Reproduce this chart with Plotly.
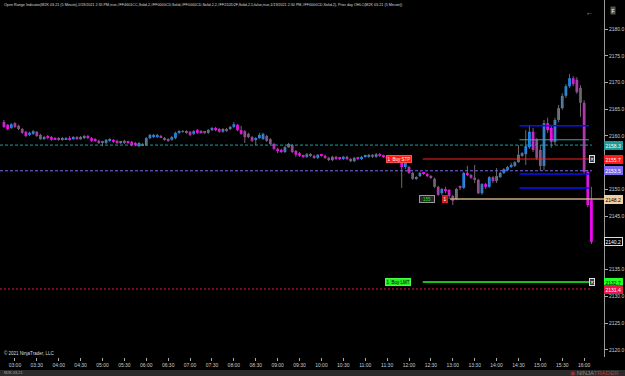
import plotly.graph_objects as go
import pandas as pd

# ---------------- data (M2K 03-21, 5 minute bars, 1/19/2021) ----------------
open_ = [2162.6, 2162.1, 2161.5, 2162.4, 2161.9, 2161.3, 2160.8, 2160.2, 2160.4, 2160.8,
         2160.2, 2159.4, 2160.0, 2159.8, 2159.6, 2159.6, 2159.3, 2159.4, 2159.6, 2159.4,
         2159.8, 2159.4, 2159.6, 2160.0, 2159.6, 2159.4, 2159.1, 2158.9, 2158.7, 2159.1,
         2159.3, 2159.1, 2158.7, 2159.1, 2158.9, 2158.9, 2158.7, 2158.1, 2158.5, 2158.3,
         2159.6, 2159.8, 2159.8, 2160.0, 2159.6, 2159.4, 2159.3, 2159.6, 2160.6, 2160.9,
         2160.9, 2160.8, 2160.4, 2161.1, 2160.9, 2160.8, 2160.6, 2161.1, 2161.5, 2161.3,
         2160.8, 2161.3, 2161.3, 2161.7, 2162.1, 2161.1, 2160.9, 2160.4, 2159.8, 2159.3,
         2159.6, 2159.4, 2160.0, 2159.4, 2158.5, 2157.6, 2157.4, 2157.0, 2157.9, 2158.3,
         2157.2, 2156.8, 2156.3, 2156.1, 2156.6, 2156.3, 2155.9, 2156.5, 2156.3, 2155.9,
         2155.5, 2156.1, 2155.9, 2155.7, 2156.1, 2155.7, 2155.3, 2155.9, 2155.7, 2156.1,
         2156.1, 2156.5, 2156.1, 2156.6, 2156.3, 2156.1, 2155.7, 2155.5, 2155.9, 2155.3,
         2154.2, 2154.2, 2153.1, 2152.0, 2152.5, 2153.1, 2152.9, 2152.5, 2152.0, 2150.5,
         2149.3, 2150.1, 2149.9, 2148.8, 2148.2, 2150.5, 2150.3, 2153.1, 2152.7, 2152.2,
         2151.8, 2149.3, 2151.0, 2150.5, 2152.3, 2151.6, 2152.3, 2153.1, 2153.6, 2154.2,
         2154.4, 2155.1, 2156.3, 2156.6, 2157.9, 2160.8, 2159.3, 2157.4, 2154.4, 2162.4,
         2161.5, 2158.9, 2163.0, 2165.2, 2167.5, 2169.3, 2170.8, 2170.5, 2169.0, 2166.2,
         2153.3, 2148.0]
high = [2163.0, 2162.2, 2162.4, 2162.6, 2162.1, 2161.5, 2160.9, 2160.8, 2161.1, 2160.9,
        2160.4, 2160.0, 2160.2, 2160.0, 2159.8, 2159.8, 2159.8, 2159.8, 2160.0, 2160.0,
        2160.0, 2160.0, 2160.2, 2160.2, 2159.8, 2159.6, 2159.3, 2159.1, 2159.4, 2159.6,
        2159.4, 2159.3, 2159.1, 2159.3, 2159.1, 2159.1, 2158.9, 2158.9, 2158.7, 2159.8,
        2160.4, 2160.4, 2160.4, 2160.2, 2159.8, 2159.6, 2160.0, 2160.8, 2161.1, 2161.1,
        2161.1, 2160.9, 2161.1, 2161.3, 2161.1, 2160.9, 2161.3, 2161.7, 2161.7, 2161.5,
        2161.5, 2161.5, 2161.9, 2162.6, 2162.2, 2161.9, 2161.1, 2160.6, 2160.0, 2159.8,
        2160.6, 2160.6, 2160.2, 2159.6, 2158.7, 2157.8, 2157.6, 2158.1, 2158.7, 2158.5,
        2157.4, 2157.0, 2156.5, 2156.8, 2156.8, 2156.5, 2156.6, 2156.6, 2156.5, 2156.1,
        2156.3, 2156.3, 2156.1, 2156.3, 2156.3, 2155.9, 2156.1, 2156.1, 2156.3, 2156.5,
        2156.6, 2156.6, 2156.8, 2156.8, 2156.5, 2156.3, 2155.9, 2155.9, 2156.1, 2155.5,
        2155.1, 2154.4, 2153.3, 2152.5, 2153.3, 2153.3, 2153.1, 2152.7, 2152.2, 2150.7,
        2150.3, 2150.5, 2150.1, 2149.0, 2150.3, 2150.7, 2153.3, 2154.4, 2152.9, 2154.6,
        2152.0, 2151.2, 2151.2, 2152.5, 2152.5, 2154.0, 2153.3, 2154.0, 2154.4, 2155.0,
        2155.3, 2158.3, 2157.0, 2161.1, 2162.1, 2161.5, 2159.6, 2158.3, 2163.0, 2163.4,
        2162.1, 2163.4, 2165.8, 2168.0, 2169.7, 2171.6, 2171.2, 2171.0, 2169.5, 2166.7,
        2153.6, 2150.5]
low = [2161.5, 2161.1, 2161.3, 2161.5, 2161.1, 2160.4, 2159.8, 2160.0, 2160.2, 2159.8,
       2159.3, 2159.3, 2159.4, 2159.1, 2159.3, 2159.1, 2159.1, 2159.3, 2159.1, 2159.3,
       2159.3, 2159.3, 2159.4, 2159.4, 2158.9, 2158.9, 2158.5, 2158.1, 2158.5, 2158.9,
       2158.7, 2158.5, 2158.5, 2158.5, 2158.5, 2158.1, 2158.1, 2157.9, 2158.1, 2158.1,
       2159.4, 2159.6, 2159.6, 2159.6, 2159.1, 2158.9, 2159.1, 2159.4, 2160.4, 2160.6,
       2160.4, 2160.0, 2160.2, 2160.4, 2160.4, 2160.4, 2160.4, 2160.9, 2160.9, 2160.6,
       2160.6, 2160.8, 2161.1, 2161.5, 2160.9, 2160.2, 2158.7, 2159.6, 2158.9, 2158.3,
       2159.4, 2159.3, 2158.9, 2158.3, 2157.4, 2156.8, 2156.8, 2156.8, 2157.8, 2156.8,
       2156.1, 2156.1, 2155.9, 2155.9, 2156.1, 2155.7, 2155.7, 2156.1, 2155.7, 2155.3,
       2155.3, 2155.5, 2155.5, 2155.5, 2155.5, 2155.1, 2155.1, 2155.5, 2155.5, 2155.9,
       2155.9, 2155.9, 2155.9, 2156.1, 2155.9, 2155.5, 2155.3, 2155.3, 2155.3, 2150.3,
       2153.8, 2152.9, 2151.8, 2151.8, 2152.3, 2152.7, 2152.3, 2152.0, 2150.3, 2148.8,
       2149.0, 2149.3, 2148.2, 2147.1, 2148.0, 2149.9, 2150.1, 2152.5, 2152.0, 2151.2,
       2149.1, 2149.0, 2150.1, 2150.3, 2151.2, 2151.2, 2152.2, 2152.9, 2153.5, 2154.0,
       2154.2, 2155.0, 2156.1, 2154.6, 2157.6, 2157.0, 2155.5, 2153.6, 2153.6, 2160.6,
       2157.8, 2158.3, 2162.6, 2164.9, 2167.1, 2169.0, 2169.3, 2167.9, 2163.6, 2152.9,
       2146.7, 2139.8]
close = [2161.7, 2161.3, 2162.2, 2161.7, 2161.3, 2160.6, 2160.0, 2160.6, 2160.9, 2160.0,
         2159.4, 2159.8, 2159.6, 2159.3, 2159.4, 2159.3, 2159.6, 2159.6, 2159.4, 2159.8,
         2159.4, 2159.8, 2160.0, 2159.6, 2159.1, 2159.1, 2158.7, 2158.7, 2159.3, 2159.4,
         2158.9, 2158.7, 2158.9, 2158.7, 2158.7, 2158.3, 2158.3, 2158.7, 2158.3, 2159.6,
         2160.2, 2160.2, 2160.2, 2159.8, 2159.3, 2159.1, 2159.8, 2160.6, 2160.9, 2160.8,
         2160.6, 2160.2, 2160.9, 2160.6, 2160.6, 2160.6, 2161.1, 2161.5, 2161.1, 2160.8,
         2161.3, 2160.9, 2161.7, 2162.2, 2161.1, 2160.4, 2159.8, 2159.8, 2159.1, 2159.6,
         2160.2, 2160.4, 2159.1, 2158.5, 2157.6, 2157.2, 2157.0, 2157.9, 2158.5, 2157.0,
         2156.5, 2156.3, 2156.1, 2156.6, 2156.3, 2155.9, 2156.5, 2156.3, 2155.9, 2155.5,
         2156.1, 2155.7, 2155.7, 2156.1, 2155.7, 2155.3, 2155.9, 2155.7, 2156.1, 2156.3,
         2156.5, 2156.1, 2156.6, 2156.3, 2156.1, 2155.7, 2155.5, 2155.7, 2155.5, 2154.2,
         2155.0, 2153.1, 2152.0, 2152.3, 2153.1, 2152.9, 2152.5, 2152.2, 2150.5, 2149.0,
         2150.1, 2149.9, 2148.8, 2147.9, 2150.1, 2150.3, 2153.1, 2152.7, 2152.2, 2151.8,
         2149.3, 2151.0, 2150.5, 2152.3, 2151.6, 2152.5, 2153.1, 2153.8, 2154.2, 2154.6,
         2155.1, 2156.5, 2156.8, 2158.1, 2160.8, 2157.4, 2155.9, 2154.4, 2162.4, 2161.1,
         2158.9, 2163.0, 2165.2, 2167.5, 2169.3, 2170.8, 2169.7, 2168.2, 2166.2, 2153.3,
         2147.1, 2140.2]

# prior day OHLC lines
prior_a = 2158.3      # teal dashed
prior_b = 2153.5      # purple dashed
prior_c = 2131.4      # crimson dotted
# open range indicator lines (from 14:30)
or_levels_blue = [2161.9, 2152.9, 2150.3]
or_level_teal = 2159.3
# orders / position
stop_price = 2155.7
target_price = 2132.7
entry_price = 2148.2
pnl_text = "155"
qty_text = "1"
y_tick_values = [2120, 2125, 2130, 2135, 2145, 2150, 2160, 2165, 2170, 2175, 2180]

times = pd.date_range("2021-01-19 02:45", periods=len(close), freq="5min")

UP = "#1e90ff"
DN = "#ff00ff"

fig = go.Figure()

# wicks
wx, wy = [], []
for t, h, l in zip(times, high, low):
    wx += [t, t, None]
    wy += [l, h, None]
fig.add_trace(go.Scatter(x=wx, y=wy, mode="lines", line=dict(color="#6a6a6a", width=1),
                         hoverinfo="skip"))
# bodies
base = [min(o, c) for o, c in zip(open_, close)]
size = [max(abs(c - o), 0.08) for o, c in zip(open_, close)]
cols = [UP if c > o else DN for o, c in zip(open_, close)]
fig.add_trace(go.Bar(x=times, y=size, base=base, marker=dict(color=cols, line=dict(width=0)),
                     width=5 * 60 * 1000 * 0.75))

def hline(y, x0, x1, color, width=1, dash="solid"):
    fig.add_shape(type="line", xref="paper", yref="y", x0=x0, x1=x1, y0=y, y1=y,
                  line=dict(color=color, width=width, dash=dash))

hline(prior_a, 0, 0.98, "#1aa3a3", 1, "3px,2px")
hline(prior_b, 0, 0.98, "#7b68ee", 1, "3px,2px")
hline(prior_c, 0, 0.98, "#e8174a", 1, "2px,2px")
hline(or_level_teal, 0.86, 0.975, "#20b2aa", 1.2)
for v in or_levels_blue:
    hline(v, 0.86, 0.975, "#0a10ff", 1.5)
hline(stop_price, 0.70, 0.985, "#ff2020", 1)
hline(target_price, 0.70, 0.985, "#22ff22", 1.5)
hline(entry_price, 0.745, 1.0, "#c8a882", 1.5)

ann = []
def label(y, text, bg, fc, border=None):
    ann.append(dict(x=1.0, xref="paper", y=y, yref="y", xanchor="left", yanchor="middle",
                    text=text, showarrow=False, bgcolor=bg, bordercolor=border or bg,
                    borderwidth=1, borderpad=0.5, font=dict(size=5, color=fc, family="Arial")))

label(prior_a, f"{prior_a:.1f}", "#1d9a9a", "white")
label(stop_price, f"{stop_price:.1f}", "#ff1a1a", "white")
label(prior_b, f"{prior_b:.1f}", "#7b68ee", "white")
label(entry_price, f"{entry_price:.1f}", "#f0cfa0", "black")
label(close[-1], f"{close[-1]:.1f}", "black", "white", "#dddddd")
label(target_price, f"{target_price:.1f}", "#22ff22", "black")
label(prior_c, f"{prior_c:.1f}", "#e8174a", "white")

# order flags
ann.append(dict(x=0.682, xref="paper", y=stop_price, yref="y", text="1  Buy STP", showarrow=False,
                bgcolor="#ff1a1a", bordercolor="#ff5050", borderwidth=1, borderpad=0.5,
                font=dict(size=4.5, color="white", family="Arial")))
ann.append(dict(x=0.680, xref="paper", y=target_price, yref="y", text="1  Buy LMT", showarrow=False,
                bgcolor="#22ee22", bordercolor="#44ff44", borderwidth=1, borderpad=0.5,
                font=dict(size=4.5, color="black", family="Arial")))
for yv in (stop_price, target_price):
    ann.append(dict(x=0.985, xref="paper", y=yv, yref="y", text="✕", showarrow=False,
                    bgcolor="#3a3a3a", bordercolor="#dddddd", borderwidth=1, borderpad=0,
                    font=dict(size=5, color="white")))
ann.append(dict(x=0.720, xref="paper", y=entry_price, yref="y", text="&nbsp;&nbsp;" + pnl_text + "&nbsp;&nbsp;",
                showarrow=False, bgcolor="#262626", bordercolor="#999999", borderwidth=1, borderpad=0.5,
                font=dict(size=4.5, color="#33dd33", family="Arial")))
ann.append(dict(x=0.742, xref="paper", y=entry_price, yref="y", text=qty_text, showarrow=False,
                bgcolor="#cc2222", bordercolor="#cc2222", borderwidth=1, borderpad=0.5,
                font=dict(size=4.5, color="white", family="Arial")))

# texts
title = ("Open Range Indicator(M2K 03-21 (5 Minute),1/19/2021 2:35 PM,true,#FF4601CC,Solid,2,#FF0000CD,Solid,"
         "#FF0000CD,Solid,2,2,#FF2D2D2F,Solid,2,5,false,true,1/19/2021 2:30 PM,#FF0000CD,Solid,2), "
         "Prior day OHLC(M2K 03-21 (5 Minute))")
ann.append(dict(x=0.003, xref="paper", y=0.985, yref="paper", xanchor="left", yanchor="middle",
                text=title, showarrow=False, font=dict(size=3.7, color="#dddddd", family="Arial")))
ann.append(dict(x=0.985, xref="paper", y=0.983, yref="paper", text="←", showarrow=False,
                font=dict(size=7, color="#bbbbbb")))
ann.append(dict(x=1.02, xref="paper", y=0.983, yref="paper", text="F", showarrow=False,
                bgcolor="#555555", borderpad=0.5, font=dict(size=5, color="white", family="Arial")))
ann.append(dict(x=0.003, xref="paper", y=0.011, yref="paper", xanchor="left", yanchor="middle",
                text="© 2021 NinjaTrader, LLC", showarrow=False,
                font=dict(size=4.5, color="#dddddd", family="Arial")))
ann.append(dict(x=0.003, xref="paper", y=-0.045, yref="paper", xanchor="left", yanchor="middle",
                text="M2K 03-21", showarrow=False, font=dict(size=3.8, color="#aaaaaa", family="Arial")))
ann.append(dict(x=1.028, xref="paper", y=-0.045, yref="paper", xanchor="right", yanchor="middle",
                text="<span style='color:#b03030'>◉</span> <span style='color:#8a8a8a'>NINJA</span><span style='color:#c0392b'>TRADER</span>",
                showarrow=False, font=dict(size=6, family="Arial")))

fig.add_shape(type="rect", xref="paper", yref="paper", x0=-0.01, x1=1.04, y0=-0.06, y1=-0.0364,
              fillcolor="#2b2b2b", line=dict(width=0), layer="below")

fig.update_layout(
    width=625, height=376, margin=dict(l=0, r=18, t=0, b=19),
    paper_bgcolor="black", plot_bgcolor="black", showlegend=False, barmode="overlay",
    annotations=ann,
    xaxis=dict(type="date", range=["2021-01-19 02:39:33", "2021-01-19 16:27:13"],
               tickformat="%H:%M", dtick=1800000, tick0="2021-01-19 03:00",
               ticks="outside", ticklen=3, tickcolor="#aaaaaa", showgrid=False, zeroline=False,
               showline=False, tickfont=dict(size=5, color="#cccccc", family="Arial"),
               rangeslider=dict(visible=False)),
    yaxis=dict(side="right", range=[2118.69, 2185.42], tickmode="array", tickvals=y_tick_values,
               ticktext=[f"{v:.1f}" for v in y_tick_values],
               ticks="outside", ticklen=3, tickcolor="#aaaaaa", showline=True, linecolor="#9a9a9a",
               linewidth=1, showgrid=False, zeroline=False,
               tickfont=dict(size=5, color="#cccccc", family="Arial")),
)

fig.write_html("out.html")
